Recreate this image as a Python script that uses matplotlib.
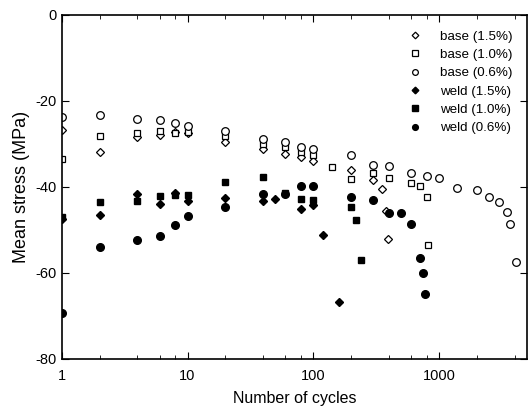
# Mean stress vs. number of cycles, base metal and weld

import matplotlib.pyplot as plt
from matplotlib.ticker import LogLocator, NullFormatter, FixedLocator

plt.rcParams['font.family'] = ['Liberation Sans', 'DejaVu Sans']
plt.rcParams['axes.unicode_minus'] = False

# base metal
base15_n = [1, 2, 4, 6, 8, 10, 20, 40, 60, 80, 100, 200, 300, 350, 380, 390]
base15_s = [-26.7, -31.9, -28.5, -27.9, -27.3, -27.5, -29.5, -31.2, -32.3, -33.1, -34.0,
            -36.2, -38.5, -40.5, -45.7, -52.1]
base10_n = [1, 2, 4, 6, 8, 10, 20, 40, 60, 80, 100, 140, 200, 300, 400, 600, 700, 800, 820]
base10_s = [-33.5, -28.3, -27.4, -27.0, -27.4, -27.2, -28.3, -30.0, -30.8, -31.8, -32.6,
            -35.3, -38.2, -36.8, -38.0, -39.1, -39.7, -42.4, -53.5]
base06_n = [1, 2, 4, 6, 8, 10, 20, 40, 60, 80, 100, 200, 300, 400, 600, 800, 1000,
            1400, 2000, 2500, 3000, 3500, 3700, 4100]
base06_s = [-23.7, -23.3, -24.2, -24.4, -25.2, -25.8, -27.1, -28.9, -29.6, -30.8, -31.2,
            -32.6, -34.9, -35.1, -36.8, -37.6, -38.0, -40.2, -40.8, -42.4, -43.6, -45.9,
            -48.6, -57.6]

# weld
weld15_n = [1, 2, 4, 6, 8, 10, 20, 40, 50, 80, 100, 120, 160]
weld15_s = [-47.5, -46.5, -41.6, -44.0, -41.5, -43.2, -42.6, -43.4, -42.8, -45.1, -44.2,
            -51.2, -66.7]
weld10_n = [1, 2, 4, 6, 8, 10, 20, 40, 60, 80, 100, 200, 220, 240]
weld10_s = [-47.0, -43.6, -43.3, -42.2, -42.0, -42.0, -38.8, -37.8, -41.5, -42.8, -43.0,
            -44.6, -47.7, -57.1]
weld06_n = [1, 2, 4, 6, 8, 10, 20, 40, 60, 80, 100, 200, 300, 400, 500, 600, 700, 750, 780]
weld06_s = [-69.4, -53.9, -52.3, -51.4, -48.8, -46.9, -44.6, -41.6, -41.7, -39.7, -39.7,
            -42.4, -43.0, -46.0, -46.0, -48.7, -56.6, -60.1, -64.9]

fig = plt.figure(figsize=(5.28, 4.11), dpi=100)
ax = fig.add_axes([0.117, 0.127, 0.881, 0.837])

ms = 5.5
ax.plot(base15_n, base15_s, 'D', ms=ms - 1, mfc='white', mec='black', mew=0.9, ls='none', label='base (1.5%)')
ax.plot(base10_n, base10_s, 's', ms=ms - 0.5, mfc='white', mec='black', mew=0.9, ls='none', label='base (1.0%)')
ax.plot(base06_n, base06_s, 'o', ms=ms, mfc='white', mec='black', mew=0.9, ls='none', label='base (0.6%)')
ax.plot(weld15_n, weld15_s, 'D', ms=ms - 1, color='black', ls='none', label='weld (1.5%)')
ax.plot(weld10_n, weld10_s, 's', ms=ms - 0.5, color='black', ls='none', label='weld (1.0%)')
ax.plot(weld06_n, weld06_s, 'o', ms=ms, color='black', ls='none', label='weld (0.6%)')

ax.set_xscale('log')
ax.set_xlim(1, 5000)
ax.set_ylim(-80, 0)
ax.set_yticks([-80, -60, -40, -20, 0])
ax.xaxis.set_major_locator(FixedLocator([1, 10, 100, 1000]))
ax.set_xticklabels(['1', '10', '100', '1000'])
ax.xaxis.set_minor_locator(LogLocator(base=10, subs=(2, 4, 6, 8)))
ax.xaxis.set_minor_formatter(NullFormatter())
ax.tick_params(which='both', direction='in', top=True, right=True, labelsize=10.5)
ax.tick_params(axis='x', pad=7)
ax.tick_params(which='major', length=5)
ax.tick_params(which='minor', length=3)
for s in ax.spines.values():
    s.set_linewidth(1.2)

ax.set_xlabel('Number of cycles', fontsize=11.5, labelpad=6)
ax.set_ylabel('Mean stress (MPa)', fontsize=13, labelpad=4)

ax.legend(loc='upper right', frameon=False, fontsize=9.6, markerscale=0.75,
          handlelength=1.0, handletextpad=1.4, labelspacing=0.45,
          bbox_to_anchor=(0.995, 0.99))

fig.savefig('out.png', dpi=100)
